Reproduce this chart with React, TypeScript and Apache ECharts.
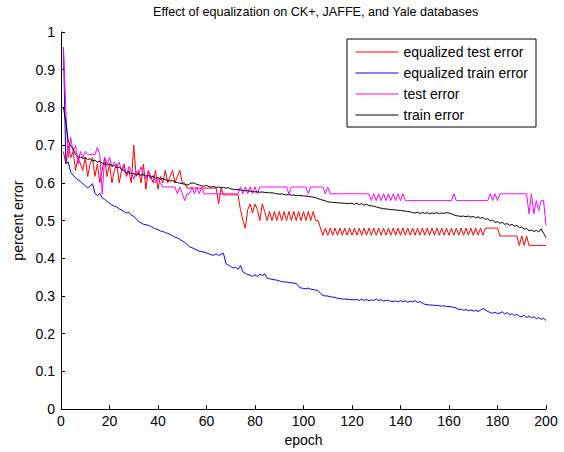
import React, { useEffect, useRef } from 'react';
import * as echarts from 'echarts';

const TITLE = 'Effect of equalization on CK+, JAFFE, and Yale databases';
const SERIES_NAMES = ['equalized test error', 'equalized train error', 'test error', 'train error'];
const SERIES_COLORS = ['#ff0000', '#0000ff', '#ff00ff', '#000000'];

// equalized test error (red), epochs 1..200
const eqTest = [
  0.683, 0.65, 0.7, 0.667, 0.683, 0.633, 0.667, 0.65, 0.633, 0.667,
  0.617, 0.65, 0.667, 0.617, 0.65, 0.6, 0.633, 0.667, 0.617, 0.65,
  0.6, 0.633, 0.65, 0.6, 0.633, 0.65, 0.617, 0.633, 0.6, 0.7,
  0.617, 0.633, 0.6, 0.65, 0.583, 0.633, 0.617, 0.6, 0.633, 0.583,
  0.617, 0.6, 0.633, 0.6, 0.617, 0.633, 0.6, 0.617, 0.633, 0.6,
  0.6, 0.586, 0.586, 0.586, 0.586, 0.586, 0.586, 0.586, 0.586, 0.586,
  0.586, 0.586, 0.586, 0.586, 0.544, 0.586, 0.568, 0.568, 0.568, 0.568,
  0.568, 0.568, 0.568, 0.529, 0.5, 0.48, 0.529, 0.544, 0.52, 0.544,
  0.529, 0.5, 0.544, 0.524, 0.5, 0.524, 0.5, 0.524, 0.5, 0.524,
  0.5, 0.524, 0.5, 0.524, 0.5, 0.524, 0.5, 0.524, 0.5, 0.524,
  0.5, 0.524, 0.5, 0.524, 0.5, 0.5, 0.48, 0.461, 0.48, 0.461,
  0.48, 0.461, 0.48, 0.461, 0.48, 0.461, 0.48, 0.461, 0.48, 0.461,
  0.48, 0.461, 0.48, 0.461, 0.48, 0.461, 0.48, 0.461, 0.48, 0.461,
  0.48, 0.461, 0.48, 0.461, 0.48, 0.461, 0.48, 0.461, 0.48, 0.461,
  0.48, 0.461, 0.48, 0.461, 0.48, 0.461, 0.48, 0.461, 0.48, 0.461,
  0.48, 0.461, 0.48, 0.461, 0.48, 0.461, 0.48, 0.461, 0.48, 0.461,
  0.48, 0.461, 0.48, 0.461, 0.48, 0.461, 0.48, 0.461, 0.48, 0.461,
  0.48, 0.461, 0.48, 0.461, 0.48, 0.48, 0.48, 0.48, 0.48, 0.48,
  0.459, 0.459, 0.459, 0.459, 0.459, 0.459, 0.459, 0.459, 0.434, 0.459,
  0.434, 0.459, 0.434, 0.434, 0.434, 0.434, 0.434, 0.434, 0.434, 0.434,
];

// equalized train error (blue)
const eqTrain = [
  0.96, 0.652, 0.655, 0.628, 0.62, 0.614, 0.608, 0.604, 0.598, 0.592,
  0.587, 0.591, 0.598, 0.572, 0.566, 0.572, 0.56, 0.556, 0.551, 0.546,
  0.541, 0.538, 0.536, 0.531, 0.528, 0.524, 0.52, 0.522, 0.514, 0.511,
  0.505, 0.497, 0.494, 0.49, 0.489, 0.487, 0.485, 0.481, 0.478, 0.476,
  0.472, 0.471, 0.468, 0.466, 0.463, 0.46, 0.456, 0.454, 0.45, 0.446,
  0.442, 0.437, 0.43, 0.428, 0.425, 0.422, 0.419, 0.418, 0.416, 0.414,
  0.412, 0.409, 0.408, 0.412, 0.407, 0.411, 0.413, 0.386, 0.382, 0.378,
  0.374, 0.376, 0.371, 0.381, 0.364, 0.36, 0.357, 0.355, 0.352, 0.356,
  0.352, 0.358, 0.354, 0.359, 0.347, 0.346, 0.344, 0.343, 0.342, 0.34,
  0.338, 0.337, 0.337, 0.336, 0.335, 0.334, 0.333, 0.325, 0.321, 0.32,
  0.319, 0.321, 0.318, 0.317, 0.316, 0.314, 0.307, 0.301, 0.3, 0.3,
  0.298, 0.297, 0.296, 0.294, 0.293, 0.292, 0.292, 0.291, 0.291, 0.29,
  0.29, 0.291, 0.288, 0.292, 0.288, 0.291, 0.287, 0.29, 0.288, 0.292,
  0.288, 0.29, 0.286, 0.289, 0.288, 0.286, 0.285, 0.287, 0.284, 0.288,
  0.285, 0.287, 0.283, 0.286, 0.284, 0.288, 0.283, 0.285, 0.281, 0.278,
  0.277, 0.276, 0.276, 0.275, 0.275, 0.274, 0.273, 0.274, 0.272, 0.272,
  0.271, 0.27, 0.268, 0.264, 0.265, 0.262, 0.264, 0.261, 0.263, 0.26,
  0.262, 0.259, 0.262, 0.267, 0.263, 0.259, 0.256, 0.254, 0.257, 0.253,
  0.255, 0.258, 0.252, 0.256, 0.25, 0.253, 0.248, 0.251, 0.246, 0.245,
  0.249, 0.243, 0.247, 0.242, 0.245, 0.24, 0.243, 0.238, 0.241, 0.235,
];

// test error (magenta)
const testErr = [
  0.96, 0.79, 0.667, 0.72, 0.683, 0.7, 0.65, 0.683, 0.667, 0.683,
  0.675, 0.675, 0.675, 0.675, 0.694, 0.675, 0.57, 0.667, 0.65, 0.667,
  0.643, 0.655, 0.643, 0.655, 0.63, 0.643, 0.62, 0.643, 0.63, 0.61,
  0.63, 0.62, 0.643, 0.62, 0.61, 0.63, 0.61, 0.62, 0.6, 0.61,
  0.6, 0.589, 0.589, 0.589, 0.589, 0.589, 0.589, 0.571, 0.589, 0.571,
  0.553, 0.571, 0.571, 0.589, 0.571, 0.589, 0.571, 0.589, 0.571, 0.571,
  0.571, 0.571, 0.571, 0.571, 0.571, 0.571, 0.571, 0.571, 0.571, 0.571,
  0.571, 0.571, 0.571, 0.589, 0.571, 0.589, 0.571, 0.589, 0.571, 0.589,
  0.571, 0.589, 0.589, 0.589, 0.589, 0.589, 0.589, 0.589, 0.589, 0.589,
  0.589, 0.589, 0.589, 0.571, 0.589, 0.589, 0.589, 0.589, 0.589, 0.589,
  0.589, 0.571, 0.589, 0.589, 0.589, 0.589, 0.589, 0.589, 0.571, 0.589,
  0.571, 0.571, 0.571, 0.571, 0.571, 0.571, 0.571, 0.571, 0.571, 0.571,
  0.571, 0.571, 0.571, 0.571, 0.571, 0.571, 0.571, 0.553, 0.571, 0.553,
  0.571, 0.553, 0.571, 0.553, 0.571, 0.553, 0.571, 0.553, 0.571, 0.553,
  0.571, 0.553, 0.553, 0.553, 0.553, 0.553, 0.553, 0.553, 0.553, 0.553,
  0.553, 0.553, 0.553, 0.553, 0.553, 0.553, 0.553, 0.553, 0.553, 0.553,
  0.553, 0.571, 0.553, 0.553, 0.553, 0.553, 0.553, 0.553, 0.553, 0.553,
  0.553, 0.553, 0.553, 0.553, 0.553, 0.553, 0.571, 0.553, 0.571, 0.553,
  0.571, 0.571, 0.571, 0.571, 0.571, 0.571, 0.571, 0.571, 0.571, 0.571,
  0.571, 0.571, 0.518, 0.571, 0.518, 0.553, 0.527, 0.553, 0.553, 0.487,
];

// train error (black)
const trainErr = [
  0.8, 0.76, 0.71, 0.698, 0.69, 0.675, 0.669, 0.668, 0.665, 0.667,
  0.662, 0.664, 0.658, 0.66, 0.655, 0.657, 0.652, 0.65, 0.647, 0.651,
  0.644, 0.646, 0.64, 0.642, 0.636, 0.632, 0.627, 0.629, 0.624, 0.625,
  0.621, 0.624, 0.62, 0.622, 0.618, 0.62, 0.615, 0.617, 0.612, 0.614,
  0.61, 0.612, 0.608, 0.607, 0.605, 0.606, 0.602, 0.601, 0.599, 0.598,
  0.596, 0.594, 0.597, 0.6, 0.599, 0.596, 0.594, 0.592, 0.591, 0.593,
  0.59, 0.589, 0.59, 0.588, 0.589, 0.587, 0.588, 0.586, 0.587, 0.584,
  0.583, 0.582, 0.582, 0.581, 0.58, 0.579, 0.579, 0.578, 0.577, 0.576,
  0.576, 0.575, 0.576, 0.574, 0.575, 0.573, 0.574, 0.572, 0.571, 0.57,
  0.571, 0.569, 0.568, 0.569, 0.567, 0.568, 0.566, 0.567, 0.566, 0.565,
  0.565, 0.564, 0.563, 0.562, 0.561, 0.558, 0.556, 0.554, 0.552, 0.55,
  0.549, 0.548, 0.548, 0.547, 0.547, 0.546, 0.546, 0.545, 0.545, 0.546,
  0.543, 0.546, 0.542, 0.545, 0.541, 0.543, 0.54, 0.539, 0.538, 0.536,
  0.534, 0.533, 0.531, 0.531, 0.53, 0.529, 0.529, 0.528, 0.527, 0.527,
  0.526, 0.525, 0.524, 0.523, 0.521, 0.52, 0.522, 0.519, 0.521, 0.519,
  0.521, 0.518, 0.52, 0.519, 0.521, 0.518, 0.52, 0.519, 0.521, 0.52,
  0.518, 0.515, 0.513, 0.512, 0.511, 0.512, 0.51, 0.512, 0.509, 0.511,
  0.507, 0.51, 0.506, 0.508, 0.503, 0.505, 0.499, 0.501, 0.495, 0.497,
  0.493, 0.495, 0.49, 0.492, 0.487, 0.49, 0.485, 0.487, 0.481, 0.483,
  0.477, 0.479, 0.473, 0.475, 0.471, 0.474, 0.47, 0.478, 0.466, 0.455,
];

const SERIES_DATA = [eqTest, eqTrain, testErr, trainErr];
const FONT = '"Liberation Sans", Arial, Helvetica, sans-serif';

export default function App() {
  const ref = useRef<HTMLDivElement>(null);
  useEffect(() => {
    if (!ref.current) return;
    const chart = echarts.init(ref.current, null, { renderer: 'svg' });
    const toPairs = (arr: number[]) => arr.map((v, i) => [i + 1, v]);
    chart.setOption({
      animation: false,
      backgroundColor: '#ffffff',
      textStyle: { fontFamily: FONT },
      title: {
        text: TITLE,
        left: 153,
        top: 5,
        padding: 0,
        textStyle: { fontSize: 12.6, fontWeight: 'normal', color: '#000', fontFamily: FONT },
      },
      grid: { left: 61, top: 32, right: 18, bottom: 40, containLabel: false },
      legend: {
        data: SERIES_NAMES,
        orient: 'vertical',
        left: 347,
        top: 39,
        itemWidth: 43,
        itemHeight: 14,
        itemGap: 7,
        padding: [6, 8, 5, 8],
        borderColor: '#000',
        borderWidth: 1,
        backgroundColor: '#fff',
        itemStyle: { opacity: 0, borderWidth: 0 },
        lineStyle: { width: 1 },
        textStyle: { fontSize: 14, color: '#000', fontFamily: FONT },
      },
      xAxis: {
        type: 'value',
        min: 0,
        max: 200,
        interval: 20,
        name: 'epoch',
        nameLocation: 'middle',
        nameGap: 21,
        nameTextStyle: { fontSize: 14, color: '#000', fontFamily: FONT },
        axisLine: { show: true, onZero: false, lineStyle: { color: '#000', width: 1 } },
        axisTick: { show: true, inside: true, length: 4, lineStyle: { color: '#000' } },
        axisLabel: { margin: 5, fontSize: 14, color: '#000', fontFamily: FONT },
        splitLine: { show: false },
      },
      yAxis: {
        type: 'value',
        min: 0,
        max: 1,
        interval: 0.1,
        name: 'percent error',
        nameLocation: 'middle',
        nameGap: 29,
        nameTextStyle: { fontSize: 14, color: '#000', fontFamily: FONT },
        axisLine: { show: true, onZero: false, lineStyle: { color: '#000', width: 1 } },
        axisTick: { show: true, inside: true, length: 4, lineStyle: { color: '#000' } },
        axisLabel: { margin: 6, fontSize: 14, color: '#000', fontFamily: FONT },
        splitLine: { show: false },
      },
      series: SERIES_NAMES.map((name, i) => ({
        name,
        type: 'line',
        data: toPairs(SERIES_DATA[i]),
        symbol: 'none',
        showSymbol: false,
        color: SERIES_COLORS[i],
        lineStyle: { color: SERIES_COLORS[i], width: 1 },
        z: 2 + i,
      })),
    });
    return () => chart.dispose();
  }, []);
  return (
    <div
      ref={ref}
      style={{ position: 'fixed', left: 0, top: 0, width: 564, height: 452, background: '#fff' }}
    />
  );
}
